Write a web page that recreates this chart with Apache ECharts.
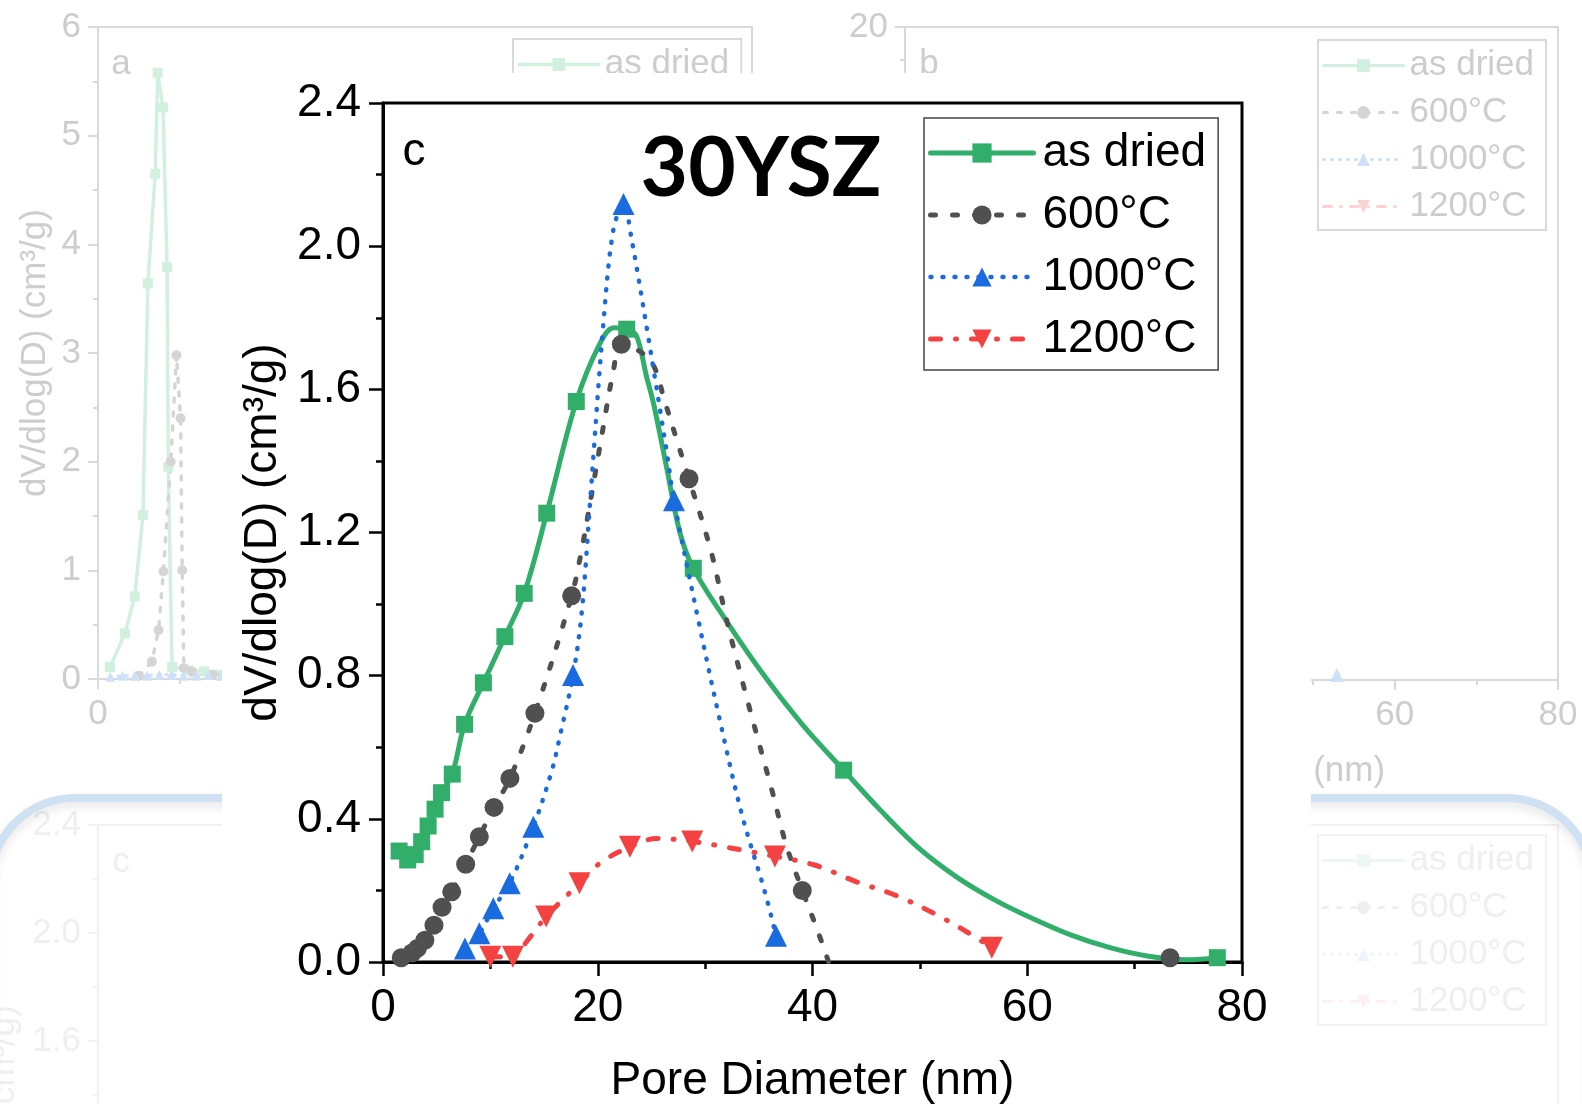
<!DOCTYPE html>
<html><head><meta charset="utf-8">
<script src="https://cdn.jsdelivr.net/npm/echarts@6/dist/echarts.min.js"></script>
<style>html,body{margin:0;padding:0;background:#fff}#c{width:1582px;height:1104px}</style>
</head><body><div id="c"></div>
<script>
// ---------- data ----------
const seriesNames = ['as dried', '600°C', '1000°C', '1200°C'];
// main panel c : [pore diameter nm, dV/dlog(D)]
const asDriedMarked = [[1.5,0.31],[2.3,0.285],[3.0,0.30],[3.6,0.336],[4.2,0.38],[4.85,0.427],[5.45,0.473],[6.45,0.525],[7.6,0.664],[9.35,0.78],[11.35,0.909],[13.15,1.03],[15.25,1.254],[18.0,1.566],[22.7,1.768],[28.9,1.10],[42.9,0.536],[77.7,0.012]];
const asDriedCurve = [[20.2,1.728],[21.5,1.772],[23.6,1.75],[24.55,1.635],[25.2,1.56],[26.4,1.384],[27.65,1.2],[32.0,0.952],[35.6,0.796],[39.1,0.662],[46.3,0.425],[49.9,0.318],[53.4,0.238],[57.0,0.173],[60.6,0.120],[64.1,0.075],[67.7,0.040],[71.3,0.016],[74.9,0.006]];
const t600Marked = [[1.7,0.012],[2.7,0.025],[3.2,0.038],[3.9,0.061],[4.75,0.103],[5.5,0.153],[6.4,0.196],[7.7,0.273],[8.97,0.35],[10.34,0.432],[11.82,0.513],[14.15,0.695],[17.57,1.023],[22.2,1.726],[28.5,1.35],[39.05,0.2],[73.3,0.012]];
const t600Curve = [[18.5,1.151],[19.1,1.25],[20.36,1.468],[21.45,1.65],[24.9,1.68],[26.3,1.56],[27.5,1.445],[30.6,1.142],[32.0,0.956],[34.1,0.713],[36.3,0.471],[37.5,0.332],[40.4,0.094],[41.5,0.0],[57,'-']];
const t1000Marked = [[7.63,0.038],[8.97,0.08],[10.27,0.15],[11.8,0.22],[14.0,0.378],[17.7,0.802],[22.4,2.118],[27.1,1.29],[36.6,0.073]];
const t1000Curve = [[15.7,0.532],[16.5,0.634],[18.5,0.974],[19.3,1.29],[20.5,1.775],[21.45,2.045],[23.15,2.02],[24.7,1.747],[26.4,1.43],[29.3,0.965],[31.3,0.685],[33.4,0.415],[35.6,0.192]];
const t1200Marked = [[10.0,0.015],[12.1,0.015],[15.2,0.127],[18.3,0.22],[23.0,0.322],[28.8,0.337],[36.5,0.295],[56.7,0.04]];
const t1200Curve = [[13.4,0.058],[20.2,0.276],[25.5,0.345],[40.2,0.271],[44.1,0.224],[47.7,0.187],[51.3,0.136],[54.1,0.089]];
// faded background panel a
const aAsDried = [[1.47,0.11],[3.3,0.42],[4.5,0.76],[5.5,1.51],[6.1,3.64],[7.0,4.65],[7.3,5.58],[7.95,5.26],[8.45,3.79],[8.6,1.95],[9.06,0.11],[11,0.08],[13,0.07],[16,0.07]];
const a600 = [[5.0,0.03],[6.6,0.16],[7.4,0.45],[8.0,0.99],[8.9,2.0],[9.6,2.98],[10.1,2.4],[10.3,1.0],[10.5,0.1],[11.5,0.07],[14,0.04],[16,0.05]];
const a1000 = [[1.5,0.02],[3,0.03],[4.5,0.03],[6,0.03],[7.5,0.04],[9,0.04],[10.5,0.03],[12,0.03],[13.5,0.04],[15,0.03]];
const a1200 = [];
// faded background panel b
const bAsDried = [], b600 = [], b1000 = [[52.9,0.15]], b1200 = [];
// faded background panel c (copy, all marks hidden)
const cfAsDried = [], cf600 = [], cf1000 = [], cf1200 = [];

// ---------- styling ----------
const FONT = 'Liberation Sans, Arial, sans-serif';
const FS = 46, FSF = 35;
const MAIN = ['#31ae6a', '#505050', '#1a6ae0', '#f44242'];
const FADE_A = ['#d2f0de', '#d5d5d5', '#cfe0f9', '#fad2d2'];
const FADE_C = ['#eef8f2', '#efefef', '#eef3fd', '#fdf0f0'];
const SYM = ['rect', 'circle', 'triangle', 'triangle'];
const ROT = [0, 0, 0, 180];
const TYPES = ['solid', [5, 17], [1, 11], [10, 15, 1, 15]];
const TYPES_F = ['solid', [4, 10], [1, 7], [8, 9, 1, 9]];

function buildData(marked, curve) {
  const pts = marked.map(p => ({ value: p })).concat(curve.map(p => ({ value: p, symbol: 'none' })));
  pts.sort((a, b) => a.value[0] - b.value[0]);
  return pts;
}
const mainSets = [[asDriedMarked, asDriedCurve], [t600Marked, t600Curve], [t1000Marked, t1000Curve], [t1200Marked, t1200Curve]];
const mainSizes = [17, 19, 22, 22];
const mainWidths = [5, 5, 4.5, 5];

const series = [];
[aAsDried, a600, a1000, a1200].forEach((d, i) => series.push({
  name: 'a:' + seriesNames[i], type: 'line', xAxisIndex: 1, yAxisIndex: 1, data: d,
  symbol: SYM[i], symbolRotate: ROT[i], symbolSize: 10, color: FADE_A[i],
  lineStyle: { color: FADE_A[i], width: 3.5, type: TYPES_F[i], cap: 'round' }, itemStyle: { color: FADE_A[i] }, silent: true
}));
[bAsDried, b600, b1000, b1200].forEach((d, i) => series.push({
  name: 'b:' + seriesNames[i], type: 'line', xAxisIndex: 2, yAxisIndex: 2, data: d,
  symbol: SYM[i], symbolRotate: ROT[i], symbolSize: 14, color: FADE_A[i],
  lineStyle: { color: FADE_A[i], width: 3, type: TYPES_F[i], cap: 'round' }, itemStyle: { color: FADE_A[i] }, silent: true
}));
[cfAsDried, cf600, cf1000, cf1200].forEach((d, i) => series.push({
  name: 'cf:' + seriesNames[i], type: 'line', xAxisIndex: 3, yAxisIndex: 3, data: d,
  symbol: SYM[i], symbolRotate: ROT[i], symbolSize: 14, color: FADE_C[i],
  lineStyle: { color: FADE_C[i], width: 3, type: TYPES_F[i], cap: 'round' }, itemStyle: { color: FADE_C[i] }, silent: true
}));
mainSets.forEach((s, i) => series.push({
  name: seriesNames[i], type: 'line', xAxisIndex: 0, yAxisIndex: 0, zlevel: 1, z: 3 + i,
  data: buildData(s[0], s[1]), smooth: 0.35, connectNulls: false,
  symbol: SYM[i], symbolRotate: ROT[i], symbolSize: mainSizes[i], color: MAIN[i],
  lineStyle: { color: MAIN[i], width: mainWidths[i], type: TYPES[i], cap: 'round' },
  itemStyle: { color: MAIN[i] }, clip: true, silent: true
}));

function fadedAxisStyle(lineC, textC) {
  return {
    axisLine: { show: true, onZero: false, lineStyle: { color: lineC, width: 2 } },
    axisTick: { show: true, length: 10, lineStyle: { color: lineC, width: 2 } },
    minorTick: { show: true, splitNumber: 2, length: 5, lineStyle: { color: lineC, width: 2 } },
    splitLine: { show: false },
    nameTextStyle: { fontSize: FSF, color: textC, fontFamily: FONT },
  };
}
function fx(grid, lineC, textC, gap) {
  return Object.assign({ type: 'value', gridIndex: grid, min: 0, max: 80, interval: 20,
    axisLabel: { fontSize: FSF, color: textC, margin: 18, fontFamily: FONT },
    name: 'Pore Diameter (nm)', nameLocation: 'middle', nameGap: gap }, fadedAxisStyle(lineC, textC));
}
function fy(grid, lineC, textC, max, interval, gap, dec) {
  return Object.assign({ type: 'value', gridIndex: grid, min: 0, max: max, interval: interval,
    axisLabel: { fontSize: FSF, color: textC, margin: 17, fontFamily: FONT, formatter: v => dec ? v.toFixed(dec) : String(v) },
    name: 'dV/dlog(D) (cm³/g)', nameLocation: 'middle', nameRotate: 90, nameGap: gap }, fadedAxisStyle(lineC, textC));
}
const LA = '#d9d9d9', TA = '#cdcdcd', LC = '#f1f1f1', TC = '#efefef';

function legendFor(prefix, left, top, textC, borderC) {
  return {
    data: seriesNames.map(n => prefix + n), orient: 'vertical', left: left, top: top,
    itemWidth: 80, itemHeight: 16, itemGap: 12, padding: [8, 12, 6, 4],
    borderColor: borderC, borderWidth: 2, selectedMode: false,
    formatter: n => n.replace(/^[a-z]+:/, ''),
    lineStyle: { width: 'inherit' },
    textStyle: { fontSize: FSF, color: textC, fontFamily: FONT, padding: [0, 0, 0, 1] }
  };
}

const option = {
  animation: false,
  backgroundColor: '#fff',
  grid: [
    { left: 383, top: 103, width: 859, height: 859, show: true, borderColor: '#000', borderWidth: 3, zlevel: 1, z: 1, outerBoundsMode: 'none', containLabel: false },
    { left: 98, top: 27, width: 654, height: 652, show: true, borderColor: LA, borderWidth: 2, outerBoundsMode: 'none', containLabel: false },
    { left: 905, top: 27, width: 653, height: 653, show: true, borderColor: LA, borderWidth: 2, outerBoundsMode: 'none', containLabel: false },
    { left: 98, top: 825, width: 1460, height: 648, show: true, borderColor: LC, borderWidth: 2, outerBoundsMode: 'none', containLabel: false }
  ],
  xAxis: [
    { type: 'value', gridIndex: 0, min: 0, max: 80, interval: 20, zlevel: 1,
      axisLine: { show: true, onZero: false, lineStyle: { color: '#000', width: 3 } },
      axisTick: { show: true, length: 14, lineStyle: { color: '#000', width: 2.5 } },
      minorTick: { show: true, splitNumber: 2, length: 7, lineStyle: { color: '#000', width: 2.5 } },
      splitLine: { show: false },
      axisLabel: { fontSize: FS, color: '#000', margin: 23, fontFamily: FONT },
      name: 'Pore Diameter (nm)', nameLocation: 'middle', nameGap: 96,
      nameTextStyle: { fontSize: FS, color: '#000', fontFamily: FONT } },
    fx(1, LA, TA, 74), fx(2, LA, TA, 74), fx(3, LC, TC, 74)
  ],
  yAxis: [
    { type: 'value', gridIndex: 0, min: 0, max: 2.4, interval: 0.4, zlevel: 1,
      axisLine: { show: true, onZero: false, lineStyle: { color: '#000', width: 3 } },
      axisTick: { show: true, length: 14, lineStyle: { color: '#000', width: 2.5 } },
      minorTick: { show: true, splitNumber: 2, length: 7, lineStyle: { color: '#000', width: 2.5 } },
      splitLine: { show: false },
      axisLabel: { fontSize: FS, color: '#000', margin: 22, fontFamily: FONT, formatter: v => v.toFixed(1) },
      name: 'dV/dlog(D) (cm³/g)', nameLocation: 'middle', nameRotate: 90, nameGap: 94,
      nameTextStyle: { fontSize: FS, color: '#000', fontFamily: FONT } },
    fy(1, LA, TA, 6, 1, 45, 0), fy(2, LA, TA, 20, 2, 45, 0), fy(3, LC, TC, 2.4, 0.4, 57, 1)
  ],
  legend: [
    { data: seriesNames, orient: 'vertical', left: 924, top: 118, zlevel: 1, z: 10,
      itemWidth: 103, itemHeight: 24, itemGap: 16, padding: [12, 12, 8, 4],
      borderColor: '#444', borderWidth: 1.5, selectedMode: false,
      lineStyle: { width: 'inherit' },
      textStyle: { fontSize: FS, color: '#000', fontFamily: FONT, padding: [0, 0, 0, 4] } },
    legendFor('a:', 513, 39, TA, LA),
    legendFor('b:', 1318, 40, TA, LA),
    legendFor('cf:', 1318, 835, TC, LC)
  ],
  graphic: [
    { type: 'rect', zlevel: 0, z: 50, silent: true,
      shape: { x: -10, y: 798, width: 1602, height: 700, r: 85 },
      style: { fill: 'rgba(0,0,0,0)', stroke: '#cfe1f2', lineWidth: 8, shadowBlur: 10, shadowColor: 'rgba(0,0,0,0.10)', shadowOffsetY: 5 } },
    { type: 'text', zlevel: 0, z: 40, x: 121, y: 64, silent: true,
      style: { text: 'a', font: FSF + 'px Liberation Sans', fill: TA, align: 'center', verticalAlign: 'middle', textAlign: 'center', textVerticalAlign: 'middle' } },
    { type: 'text', zlevel: 0, z: 40, x: 929, y: 64, silent: true,
      style: { text: 'b', font: FSF + 'px Liberation Sans', fill: TA, align: 'center', verticalAlign: 'middle', textAlign: 'center', textVerticalAlign: 'middle' } },
    { type: 'text', zlevel: 0, z: 40, x: 121, y: 862, silent: true,
      style: { text: 'c', font: FSF + 'px Liberation Sans', fill: TC, align: 'center', verticalAlign: 'middle', textAlign: 'center', textVerticalAlign: 'middle' } },
    { type: 'rect', zlevel: 0, z: 100, silent: true,
      shape: { x: 222, y: 73, width: 1089, height: 1031 }, style: { fill: '#fff' } },
    { type: 'text', zlevel: 1, z: 20, x: 414, y: 152, silent: true,
      style: { text: 'c', font: FS + 'px Liberation Sans', fill: '#000', align: 'center', verticalAlign: 'middle', textAlign: 'center', textVerticalAlign: 'middle' } },
    { type: 'text', zlevel: 1, z: 20, x: 761, y: 170, silent: true,
      style: { text: '30YSZ', font: 'bold 82px Lato', fill: '#000', align: 'center', verticalAlign: 'middle', textAlign: 'center', textVerticalAlign: 'middle' } }
  ],
  series: series
};
const chart = echarts.init(document.getElementById('c'), null, { renderer: 'canvas', width: 1582, height: 1104 });
chart.setOption(option);
</script>
</body></html>
